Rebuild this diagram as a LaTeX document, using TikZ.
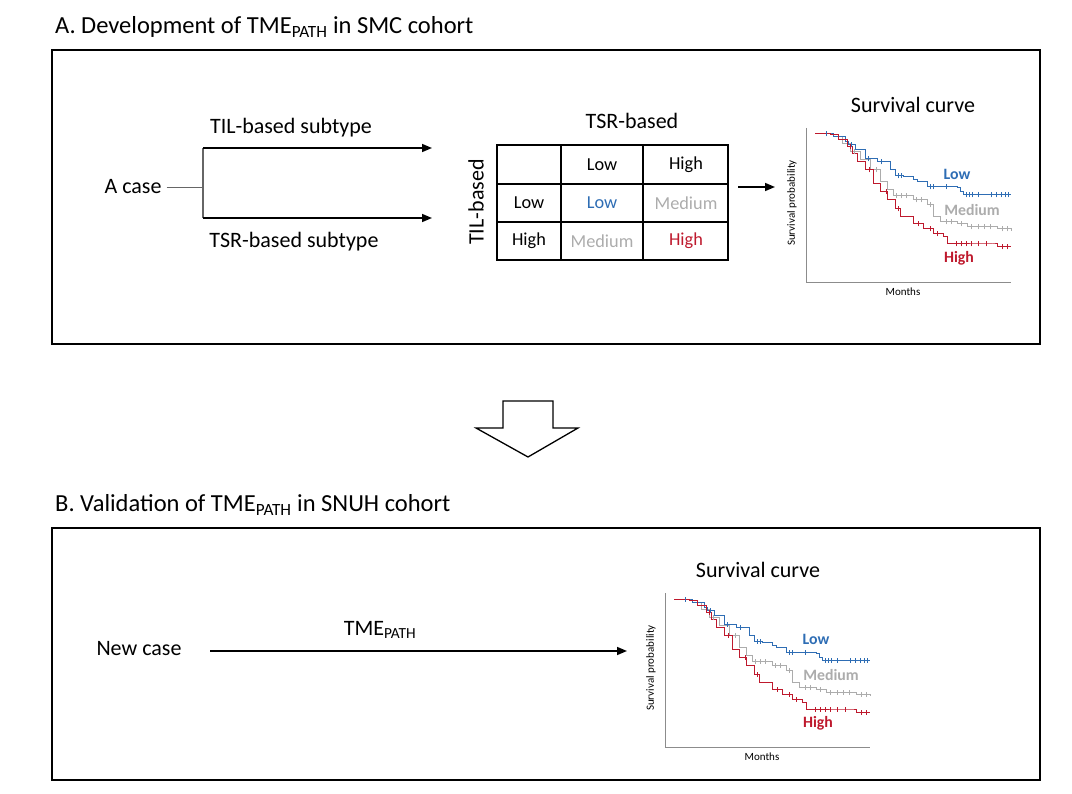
\documentclass[tikz,border=0pt]{standalone}
\usepackage{fontspec}
\setmainfont{Carlito}
\usetikzlibrary{positioning}
\usetikzlibrary{arrows.meta}
\definecolor{lowblue}{RGB}{46,109,180}
\definecolor{medgray}{RGB}{172,172,172}
\definecolor{highred}{RGB}{190,25,45}

\tikzset{
  framebox/.style={draw=black,line width=1.6pt},
  arrowline/.style={line width=1.6pt,-{Triangle[length=10pt,width=8pt]}},
  titletext/.style={font=\fontsize{24.5}{28}\selectfont,anchor=west,inner sep=0pt},
  flowtext/.style={font=\fontsize{22}{26}\selectfont,inner sep=0pt},
  celltext/.style={font=\fontsize{18.3}{22}\selectfont,inner sep=0pt},
  curvelbl/.style={font=\fontsize{15.8}{18}\selectfont\bfseries,inner sep=0pt},
  axislbl/.style={font=\fontsize{11}{13}\selectfont,inner sep=0pt},
  censor/.style={line width=0.7pt}
}

% survival plot, #1 #2 = axis origin, #3 = name prefix
\newcommand{\survplot}[3]{%
  \begin{scope}[shift={(#1,#2)},yscale=-1]
    \draw[black!45,line width=0.5pt] (0,154) -- (0,0) -- (205,0);
    % medium
    \draw[medgray,line width=1pt] (9,148) -| (27,145) -| (36,138) -| (44,130) -| (54,122)
      -| (64,112) -| (74,100) -| (81,92) -| (87,86) -| (107,82) -| (121,77) -| (127,65)
      -| (134,60) -| (151,58) -| (161,55) -| (191,53) -| (205,51);
    % low
    \draw[lowblue,line width=1pt] (9,148) -| (24,148) -| (27,145) -| (39,140) -| (42,137)
      -| (49,132) -| (59,123) -| (71,120) -| (84,112) -| (89,106) -| (97,105) -| (107,102)
      -| (111,100) -| (121,95) -| (151,94) -| (154,90) -| (157,87) -| (205,87);
    % high
    \draw[highred,line width=1pt] (9,148) -| (24,147) -| (32,142) -| (41,135) -| (46,128)
      -| (51,120) -| (59,112) -| (67,98) -| (74,90) -| (81,82) -| (89,73) -| (94,65)
      -| (107,58) -| (117,53) -| (127,48) -| (137,45) -| (141,38) -| (187,38) -| (191,35)
      -| (205,35);
    % censored cases
    \foreach \cx/\cy in {48/130,70/112,90/86,95/86,100/86,110/82,115/82,124/77,140/60,145/60,
        155/58,165/55,172/55,178/55,184/55,196/53,201/53}
      \draw[censor,medgray] (\cx,\cy-2.5) -- (\cx,\cy+2.5);
    \foreach \cx/\cy in {20/148,45/137,62/123,75/120,92/106,95/106,124/95,127/95,140/95,
        160/87,163/87,166/87,172/87,185/87,190/87,195/87,199/87,202/87}
      \draw[censor,lowblue] (\cx,\cy-2.5) -- (\cx,\cy+2.5);
    \foreach \cx/\cy in {44/135,63/112,80/90,92/73,112/58,124/53,131/48,150/38,155/38,
        160/38,165/38,172/38,180/38,196/35,201/35}
      \draw[censor,highred] (\cx,\cy-2.5) -- (\cx,\cy+2.5);
    \node[curvelbl,text=lowblue] (#3low) at (151,108) {Low};
    \node[curvelbl,text=medgray] (#3med) at (166,72) {Medium};
    \node[curvelbl,text=highred] (#3high) at (153,24) {High};
    \node[axislbl,rotate=90] (#3ylbl) at (-14,79) {Survival probability};
    \node[axislbl] (#3xlbl) at (97,-10) {Months};
  \end{scope}}

\begin{document}
\begin{tikzpicture}[x=1pt,y=-1pt]
  \useasboundingbox (0,0) rectangle (1072,794);

  % part A
  \node[titletext] (titleA) at (55,27) {A. Development of TME\textsubscript{PATH} in SMC cohort};
  \draw[framebox] (52,50) rectangle (1040,344);

  \node[flowtext] (acase) at (133,187) {A case};
  \coordinate (split) at (203,187);
  \coordinate (tilstart) at (203,148);
  \coordinate (tsrstart) at (203,218);
  \coordinate (tilend) at (432,148);
  \coordinate (tsrend) at (432,218);
  \draw[black!60,line width=0.8pt] (acase.east) ++(5,0) -- (split);
  \draw[black!60,line width=1.2pt] (tilstart) -- (tsrstart);
  \draw[arrowline] (tilstart) -- (tilend);
  \draw[arrowline] (tsrstart) -- (tsrend);
  \node[flowtext] (tillbl) at (291,128) {TIL-based subtype};
  \node[flowtext] (tsrlbl) at (294,242) {TSR-based subtype};

  % matrix of subtypes
  \draw[line width=1.4pt] (497,145) rectangle (728,260);
  \draw[line width=1.4pt] (561,145) -- (561,260);
  \draw[line width=1.4pt] (643,145) -- (643,260);
  \draw[line width=1.4pt] (497,184) -- (728,184);
  \draw[line width=1.4pt] (497,222) -- (728,222);
  \node[flowtext] (tsrhead) at (632,121) {TSR-based};
  \node[flowtext,rotate=90] (tilhead) at (476,202) {TIL-based};
  \node[celltext] (c12) at (602,165) {Low};
  \node[celltext] (c13) at (686,165) {High};
  \node[celltext] (c21) at (529,203) {Low};
  \node[celltext,text=lowblue] (c22) at (602,203) {Low};
  \node[celltext,text=medgray] (c23) at (686,203) {Medium};
  \node[celltext] (c31) at (529,241) {High};
  \node[celltext,text=medgray] (c32) at (602,241) {Medium};
  \node[celltext,text=highred] (c33) at (686,241) {High};

  \coordinate (tabright) at (738,187);
  \coordinate (plotleft) at (775,187);
  \draw[arrowline] (tabright) -- (plotleft);

  \node[flowtext] (survA) at (913,105) {Survival curve};
  \survplot{806}{282}{pa}

  % big arrow
  \draw[line width=1.3pt,fill=white] (503,401) -- (553,401) -- (553,428) -- (578,428)
    -- (528,457) -- (476,428) -- (503,428) -- cycle;

  % part B
  \node[titletext] (titleB) at (55,505) {B. Validation of TME\textsubscript{PATH} in SNUH cohort};
  \draw[framebox] (52,528) rectangle (1040,780);

  \node[flowtext] (newcase) at (139,649) {New case};
  \coordinate (tmestart) at (210,651);
  \coordinate (tmeend) at (627,651);
  \draw[arrowline] (tmestart) -- (tmeend);
  \node[flowtext] (tmelbl) at (380,630) {TME\textsubscript{PATH}};

  \node[flowtext] (survB) at (758,570) {Survival curve};
  \survplot{665}{747}{pb}
\end{tikzpicture}
\end{document}
